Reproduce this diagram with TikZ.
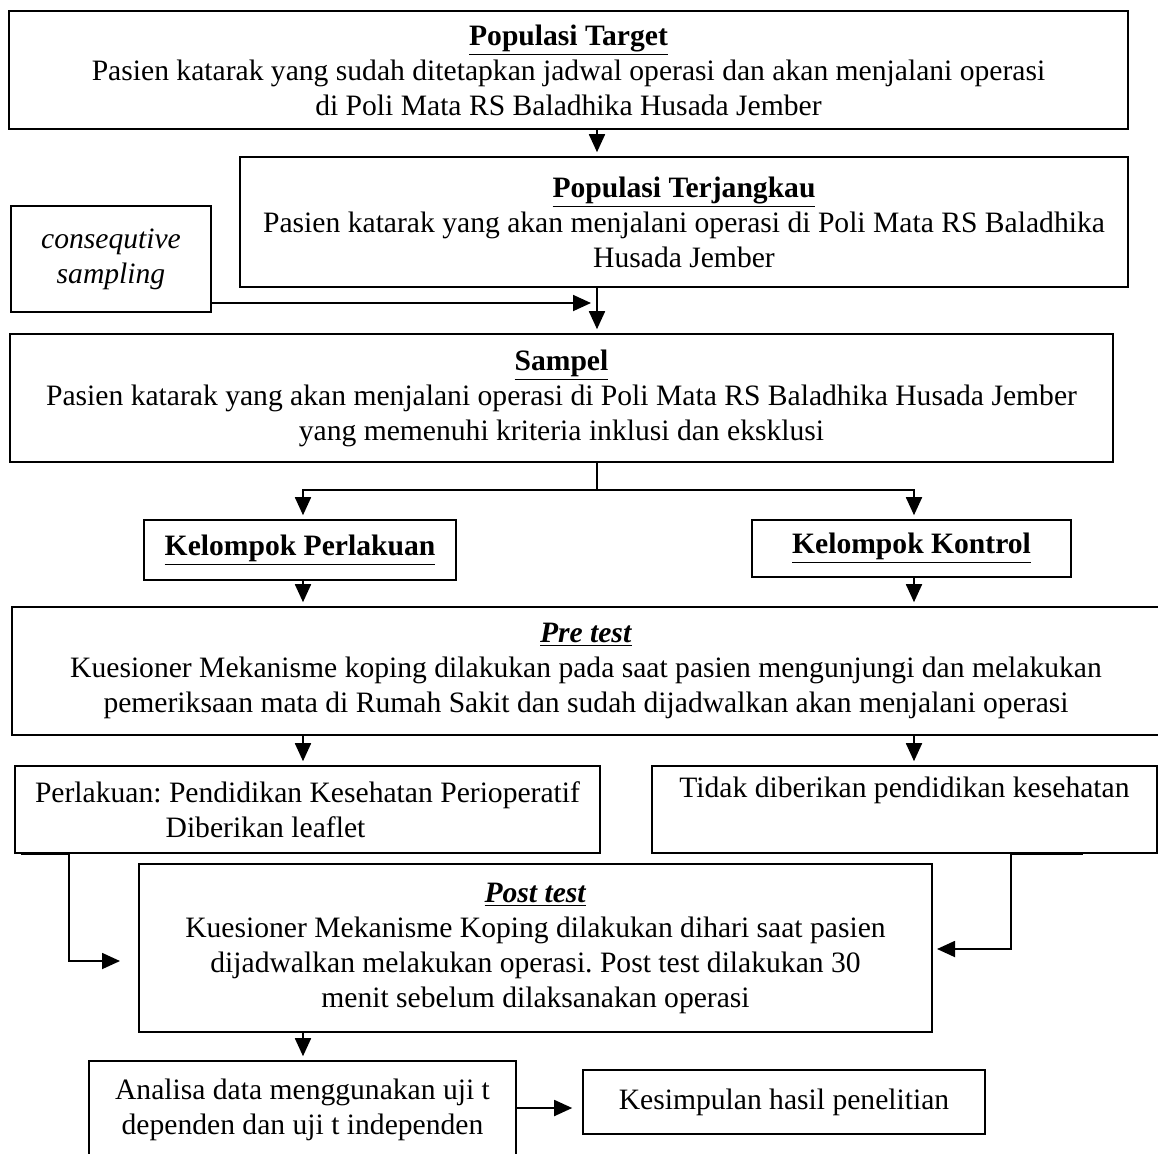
\documentclass[tikz,border=0pt]{standalone}
\usepackage{fontspec}
\setmainfont{Liberation Serif}
\usetikzlibrary{arrows.meta, positioning, calc}
\frenchspacing

\newcommand{\boxtitle}[1]{\underline{\textbf{#1}}}
\newcommand{\testtitle}[1]{\underline{\textbf{\textit{#1}}}}

\begin{document}
\begin{tikzpicture}[x=0.5pt, y=-0.5pt,
        box/.style={rectangle, draw=black, line width=0.8pt, inner sep=0pt, align=center, font=\fontsize{14.8}{17.5}\selectfont},
        arrow/.style={-{Triangle[length=9pt, width=8pt]}, line width=0.9pt, shorten >=2pt},
        link/.style={line width=0.9pt}
    ]
    \useasboundingbox (0,0) rectangle (1158,1153);

    % Populasi
    \node[box, minimum width=559.5pt, minimum height=59pt] (tgt) at (568.5,70) {\boxtitle{Populasi Target}\\Pasien katarak yang sudah ditetapkan jadwal operasi dan akan menjalani operasi\\di Poli Mata RS Baladhika Husada Jember};
    \node[box, minimum width=444pt, minimum height=65pt] (ter) at (684,222) {\boxtitle{Populasi Terjangkau}\\Pasien katarak yang akan menjalani operasi di Poli Mata RS Baladhika\\Husada Jember};
    \node[box, minimum width=100pt, minimum height=53pt] (cons) at (111,259) {\textit{consequtive}\\\textit{sampling}};
    \node[box, minimum width=551.5pt, minimum height=64pt] (smp) at (561.5,398) {\boxtitle{Sampel}\\Pasien katarak yang akan menjalani operasi di Poli Mata RS Baladhika Husada Jember\\yang memenuhi kriteria inklusi dan eksklusi};

    % Kelompok
    \node[box, minimum width=156pt, minimum height=30pt] (kp) at (300,550) {\boxtitle{Kelompok Perlakuan}};
    \node[box, minimum width=159.5pt, minimum height=28.5pt] (kk) at (911.5,548.5) {\boxtitle{Kelompok Kontrol}};

    % Pre test dan perlakuan
    \node[box, minimum width=574pt, minimum height=64pt] (pre) at (586,671) {\testtitle{Pre test}\\Kuesioner Mekanisme koping dilakukan pada saat pasien mengunjungi dan melakukan\\pemeriksaan mata di Rumah Sakit dan sudah dijadwalkan akan menjalani operasi};
    \node[box, minimum width=292.5pt, minimum height=43.5pt] (perl) at (307.5,809.5) {Perlakuan: Pendidikan Kesehatan Perioperatif\\Diberikan leaflet\hspace*{42pt}};
    \node[box, minimum width=252.5pt, minimum height=43.5pt] (tidak) at (904.5,809.5) {Tidak diberikan pendidikan kesehatan\\\strut};

    % Post test dan analisa
    \node[box, minimum width=396.5pt, minimum height=84pt] (post) at (535.5,948) {\testtitle{Post test}\\Kuesioner Mekanisme Koping dilakukan dihari saat pasien\\dijadwalkan melakukan operasi. Post test dilakukan 30\\menit sebelum dilaksanakan operasi};
    \node[box, minimum width=213.5pt, minimum height=48.5pt] (ana) at (302.5,1109.5) {Analisa data menggunakan uji t\\dependen dan uji t independen};
    \node[box, minimum width=201pt, minimum height=32pt] (kes) at (784,1102) {Kesimpulan hasil penelitian};

    % Jalur
    \coordinate (spine) at (597,0);
    \coordinate (lcol) at (303,0);
    \coordinate (rcol) at (914,0);
    \coordinate (consarr) at (591,303);
    \coordinate (lin) at (120,961);
    \coordinate (rin) at (937,949);

    % Connections
    \draw[arrow] (tgt.south -| spine) -- (ter.north -| spine);
    \draw[arrow, shorten >=0pt] (cons.east |- consarr) -- (consarr);
    \draw[arrow] (ter.south -| spine) -- (smp.north -| spine);
    \draw[link] (smp.south -| spine) -- ++(0,27) coordinate (fork);
    \draw[arrow] (fork) -| (kp.north -| lcol);
    \draw[arrow] (fork) -| (kk.north -| rcol);
    \draw[arrow] (kp.south -| lcol) -- (pre.north -| lcol);
    \draw[arrow] (kk.south -| rcol) -- (pre.north -| rcol);
    \draw[arrow] (pre.south -| lcol) -- (perl.north -| lcol);
    \draw[arrow] (pre.south -| rcol) -- (tidak.north -| rcol);
    \draw[arrow, shorten >=0pt] ($(perl.south west)+(7,0)$) -- ($(perl.south west)+(55,0)$) |- (lin);
    \draw[arrow, shorten >=0pt] ($(tidak.south east)+(-75,0)$) -- ($(tidak.south east)+(-147,0)$) |- (rin);
    \draw[arrow] (post.south -| lcol) -- (ana.north -| lcol);
    \draw[arrow] (ana.east |- 0,1108) -- ([xshift=-3pt]kes.west |- 0,1108);
\end{tikzpicture}
\end{document}
